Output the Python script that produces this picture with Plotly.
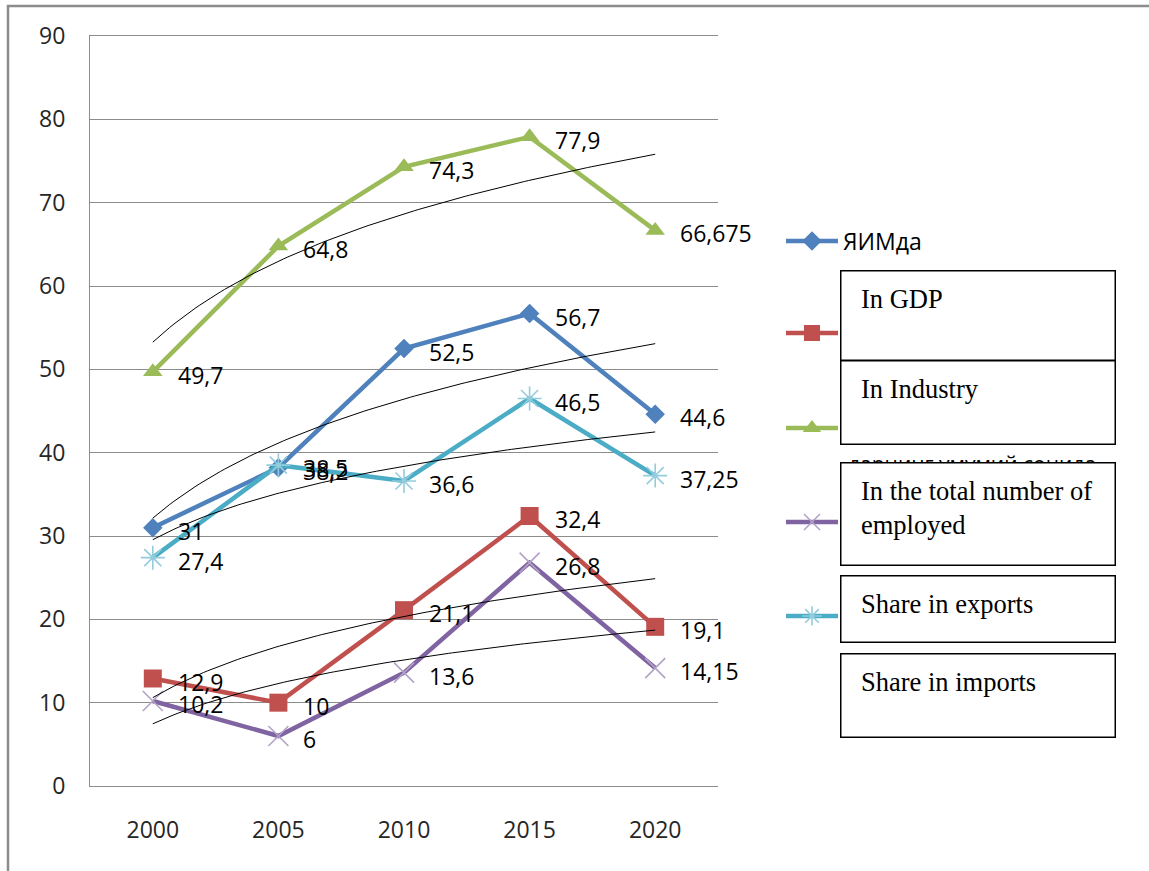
import numpy as np
import plotly.graph_objects as go

# ---------------- data ----------------
years = ["2000", "2005", "2010", "2015", "2020"]
s_gdp = [31, 38.2, 52.5, 56.7, 44.6]          # blue, ЯИМда
s_industry = [12.9, 10, 21.1, 32.4, 19.1]     # red
s_employed = [49.7, 64.8, 74.3, 77.9, 66.675] # green
s_exports = [10.2, 6, 13.6, 26.8, 14.15]      # purple
s_imports = [27.4, 38.5, 36.6, 46.5, 37.25]   # cyan
legend_names = ["ЯИМда", "", "", "", ""]
box_labels = ["In GDP", "In Industry", "In the total number of<br>employed",
              "Share in exports", "Share in imports"]
hidden_label = "дарнинг умумий сонида"
y_ticks = [0, 10, 20, 30, 40, 50, 60, 70, 80, 90]

# ---------------- geometry helpers (pixels -> paper) ----------------
W, H = 1149, 871
L, R, T, B = 90, 718, 36, 786
def px(x):
    return (x - L) / (R - L)
def py(y):
    return (B - y) / (B - T)

series = [s_gdp, s_industry, s_employed, s_exports, s_imports]
colors = ["#4F81BD", "#C0504D", "#9BBB59", "#8064A2", "#4BACC6"]
mcolors = ["#4F81BD", "#C0504D", "#9BBB59", "#B3A2C7", "#93CDDD"]
symbols = ["diamond", "square", "triangle-up", "x-thin-open", "asterisk-open"]
msizes = [15, 18, 17, 20, 20]
legend_y = [241, 333, 428, 522, 616]

xi = np.arange(len(years))
fig = go.Figure()

for i, s in enumerate(series):
    open_sym = symbols[i].endswith("open")
    marker = dict(symbol=symbols[i], size=msizes[i], color=mcolors[i])
    if open_sym:
        marker["line"] = dict(color=mcolors[i], width=1.6)
    else:
        marker["line"] = dict(width=0)
    fig.add_trace(go.Scatter(
        x=xi, y=s, mode="lines+markers", name=legend_names[i],
        line=dict(color=colors[i], width=4.5),
        marker=marker,
        legend="legend" if i == 0 else f"legend{i + 1}",
        showlegend=True, hoverinfo="skip",
    ))

# logarithmic trend lines (Excel-style, x = 1..n)
xd = np.linspace(0, len(years) - 1, 120)
for s in series:
    a, b = np.polyfit(np.log(xi + 1), np.array(s, dtype=float), 1)
    fig.add_trace(go.Scatter(
        x=xd, y=a * np.log(xd + 1) + b, mode="lines",
        line=dict(color="black", width=1), showlegend=False, hoverinfo="skip",
    ))

annotations = []
label_font = dict(family="Open Sans", size=23, color="#000000")
for s in series:
    for j, v in enumerate(s):
        annotations.append(dict(
            x=xi[j], y=v, xref="x", yref="y", text=f"{v:g}".replace(".", ","),
            showarrow=False, xanchor="left", yanchor="middle",
            xshift=23, yshift=-3, font=label_font,
        ))

# text partly hidden behind boxes
annotations.append(dict(
    x=px(846), y=py(464), xref="paper", yref="paper", text=hidden_label,
    showarrow=False, xanchor="left", yanchor="middle",
    font=dict(family="Open Sans", size=21, color="#000000"),
))

# boxes with English labels
boxes = [(270, 360), (360, 444), (462, 565), (575, 642), (653, 737)]
for (top, bot), txt in zip(boxes, box_labels):
    annotations.append(dict(
        x=px(840), y=py(top), xref="paper", yref="paper", text=" ",
        showarrow=False, xanchor="left", yanchor="top",
        width=273, height=bot - top - 2, borderpad=0,
        bgcolor="white", bordercolor="black", borderwidth=1.5,
    ))
    annotations.append(dict(
        x=px(859), y=py(top + 12), xref="paper", yref="paper", text=txt,
        showarrow=False, xanchor="left", yanchor="top", align="left",
        font=dict(family="Liberation Serif", size=26.5, color="#000000"),
    ))

legends = {}
for i in range(len(series)):
    key = "legend" if i == 0 else f"legend{i + 1}"
    legends[key] = dict(
        x=px(781), y=py(legend_y[i]), xanchor="left", yanchor="middle",
        bgcolor="rgba(0,0,0,0)", borderwidth=0, itemwidth=52,
        font=dict(family="Open Sans", size=23, color="#000000"),
    )

fig.update_layout(
    width=W, height=H,
    margin=dict(l=L, r=W - R, t=T, b=H - B, pad=0),
    paper_bgcolor="white", plot_bgcolor="white",
    annotations=annotations,
    shapes=[dict(type="rect", xref="paper", yref="paper",
                 x0=px(8), x1=px(1170), y0=py(900), y1=py(6),
                 line=dict(color="#8C8C8C", width=2.5), fillcolor="rgba(0,0,0,0)",
                 layer="below")],
    xaxis=dict(range=[-0.5, len(years) - 0.5], tickmode="array", tickvals=xi,
               ticktext=years, showgrid=False, zeroline=False,
               showline=True, mirror=True, linecolor="#8C8C8C", linewidth=1,
               ticks="", ticklabelstandoff=23,
               tickfont=dict(family="Open Sans", size=23, color="#262626")),
    yaxis=dict(range=[0, 90], tickmode="array", tickvals=y_ticks,
               showgrid=True, gridcolor="#8C8C8C", gridwidth=1,
               zeroline=False, showline=True, linecolor="#8C8C8C", linewidth=1,
               ticks="", ticklabelstandoff=19,
               tickfont=dict(family="Open Sans", size=23, color="#262626")),
    **legends,
)

fig.write_html("out.html", config={"displayModeBar": False},
               post_script="document.body.style.margin='0';document.body.style.overflow='hidden';")
